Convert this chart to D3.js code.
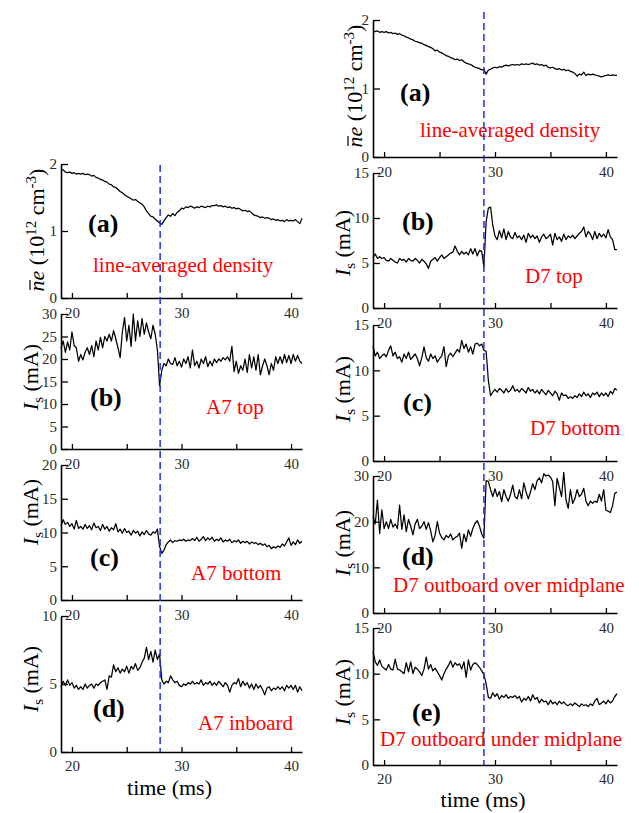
<!DOCTYPE html>
<html><head><meta charset="utf-8">
<script src="https://cdn.jsdelivr.net/npm/d3@7"></script>
<style>body{margin:0;background:#fff} svg{display:block}</style>
</head><body><svg id="c" width="639" height="813"></svg>
<script>
// ---------------- DATA ----------------
const time = [19.0,19.2,19.4,19.6,19.8,20.0,20.2,20.4,20.6,20.8,
21.0,21.2,21.4,21.6,21.8,22.0,22.2,22.4,22.6,22.8,
23.0,23.2,23.4,23.6,23.8,24.0,24.2,24.4,24.6,24.8,
25.0,25.2,25.4,25.6,25.8,26.0,26.2,26.4,26.6,26.8,
27.0,27.2,27.4,27.6,27.8,28.0,28.2,28.4,28.6,28.8,
29.0,29.2,29.4,29.6,29.8,30.0,30.2,30.4,30.6,30.8,
31.0,31.2,31.4,31.6,31.8,32.0,32.2,32.4,32.6,32.8,
33.0,33.2,33.4,33.6,33.8,34.0,34.2,34.4,34.6,34.8,
35.0,35.2,35.4,35.6,35.8,36.0,36.2,36.4,36.6,36.8,
37.0,37.2,37.4,37.6,37.8,38.0,38.2,38.4,38.6,38.8,
39.0,39.2,39.4,39.6,39.8,40.0,40.2,40.4,40.6,40.8,41.0];

// left column (A7)
const leftDensity = [1.93,1.91,1.88,1.87,1.88,1.86,1.87,1.85,1.86,1.85,
1.86,1.84,1.85,1.84,1.82,1.83,1.80,1.79,1.77,1.76,
1.74,1.73,1.70,1.69,1.66,1.65,1.62,1.59,1.57,1.54,
1.52,1.50,1.48,1.46,1.47,1.44,1.42,1.40,1.36,1.30,
1.26,1.22,1.21,1.18,1.15,1.12,1.10,1.15,1.20,1.24,
1.22,1.26,1.23,1.28,1.30,1.34,1.33,1.36,1.35,1.37,
1.36,1.34,1.36,1.35,1.37,1.36,1.35,1.37,1.36,1.38,
1.38,1.39,1.37,1.38,1.36,1.37,1.35,1.36,1.34,1.35,
1.33,1.34,1.32,1.30,1.31,1.29,1.30,1.27,1.24,1.23,
1.22,1.20,1.21,1.19,1.20,1.19,1.17,1.18,1.16,1.17,
1.15,1.16,1.14,1.17,1.15,1.16,1.15,1.17,1.14,1.11,1.19];

const a7Top = [22.4,24,21.5,23.8,22,26,23,22.5,19.5,21,
19.8,21.5,22.5,21,23,20.5,24,22,24.8,22.5,
25,24,25.5,24,26.3,24.5,22.5,20.3,26,29.2,
24,27.5,22.8,30,24,28.5,25,29,25.5,28,
26,24.5,27.5,25.5,22,14,17.5,19,18.5,20,
19,18.8,20.3,18.5,19.5,18.2,20,19,20.5,18,
22,18.5,19.5,18,20,19,20.5,18.3,19.5,18.5,
20,19.2,20,19.5,20.3,19.8,20.5,19.5,22.8,17.2,
19.5,16.8,18.5,17.5,20,17,21,18,20.5,17.5,
21,16.5,18.5,20,18.5,16.5,19,17.5,20.5,19,
20.5,19,21,19.2,20.8,19,21,19.5,20.8,19.5,19];

const a7Bottom = [11.0,11.9,11.2,11.5,10.9,11.3,10.5,11.8,10.6,10.9,
10.5,11.2,10.6,11.0,10.4,11.4,10.7,10.9,10.3,11.2,
10.5,10.9,10.2,10.7,10.4,11.3,10.1,10.5,9.9,10.6,
10.0,10.2,9.6,10.3,9.9,10.2,9.5,10.1,9.7,10.3,
9.8,9.6,10.1,9.9,10.5,7.9,6.9,7.4,8.2,8.6,
8.9,8.5,8.8,8.7,8.9,8.8,9.0,8.7,8.9,8.8,
9.1,8.8,9.3,8.7,9.0,9.4,8.8,9.2,8.9,9.3,
8.7,9.0,8.8,9.2,8.6,8.9,8.7,9.0,8.5,8.8,
8.6,8.9,8.4,8.7,8.5,8.7,8.3,8.6,8.4,8.5,
8.2,8.4,8.1,8.3,7.9,8.1,7.6,7.9,7.7,8.0,
7.8,8.3,8.0,8.6,9.2,8.1,8.6,8.2,8.9,8.4,8.7];

const a7Inboard = [4.8,5.2,4.9,5.3,4.9,5.1,4.7,4.9,4.6,4.8,
4.6,5.0,4.7,4.9,5.0,4.7,5.0,4.9,5.1,5.2,
5.3,4.6,5.6,5.5,6.4,5.9,6.2,5.8,6.1,5.9,
6.3,5.8,6.3,6.1,6.5,6.0,6.2,6.6,6.9,7.7,
6.8,7.4,6.6,7.5,6.8,7.2,5.3,5.0,5.2,5.1,
5.6,5.3,5.1,5.2,4.9,4.8,5.0,4.9,5.1,5.0,
5.2,5.0,5.1,5.0,5.3,4.9,5.1,5.0,5.2,4.9,
5.1,4.9,5.2,5.0,4.8,5.1,4.9,4.4,4.9,5.1,
5.0,5.4,4.8,5.2,4.9,5.1,4.7,5.0,4.6,5.0,
4.7,4.9,4.6,4.2,4.7,4.8,4.5,4.7,4.6,4.8,
4.6,4.8,4.5,4.9,4.7,4.9,4.6,4.9,4.4,4.8,4.5];

// right column (D7)
const rightDensity = [1.84,1.83,1.84,1.82,1.83,1.82,1.83,1.81,1.82,1.80,
1.81,1.79,1.80,1.78,1.77,1.75,1.74,1.72,1.71,1.69,
1.68,1.67,1.66,1.64,1.63,1.61,1.60,1.58,1.55,1.56,
1.53,1.52,1.50,1.48,1.47,1.45,1.44,1.42,1.43,1.41,
1.42,1.39,1.37,1.36,1.35,1.33,1.31,1.30,1.29,1.27,
1.28,1.21,1.27,1.28,1.30,1.31,1.30,1.32,1.31,1.33,
1.34,1.33,1.34,1.35,1.34,1.35,1.34,1.36,1.35,1.36,
1.35,1.36,1.37,1.35,1.36,1.34,1.35,1.33,1.34,1.31,
1.30,1.31,1.29,1.28,1.29,1.27,1.28,1.26,1.27,1.25,
1.24,1.22,1.18,1.21,1.20,1.24,1.19,1.21,1.20,1.21,
1.20,1.19,1.18,1.17,1.18,1.19,1.20,1.19,1.20,1.19,1.19];

const d7Top = [5.6,6.0,5.5,5.7,5.5,5.6,5.3,5.2,5.5,5.3,
5.1,5.0,5.5,5.3,5.4,5.1,5.5,5.3,5.2,5.5,
5.3,5.0,5.4,5.2,4.9,4.4,5.2,5.4,5.6,5.2,
5.6,5.9,5.5,5.7,5.9,6.1,6.2,6.9,6.3,5.9,
6.3,6.0,6.2,5.9,6.6,6.0,6.6,5.8,6.4,6.3,
4.6,9.6,11.1,11.2,9.2,8.0,7.6,8.6,7.8,8.8,
7.6,8.5,7.9,7.7,8.4,7.8,8.0,7.6,8.1,7.3,
8.3,7.8,8.1,7.7,8.0,7.3,7.9,8.2,7.7,7.9,
8.2,7.0,8.3,7.6,7.9,7.4,8.2,7.6,8.0,7.8,
8.1,7.7,8.0,8.3,8.5,9.0,7.9,8.5,8.2,7.6,
8.5,7.7,8.3,7.9,8.2,7.8,8.7,7.9,7.6,6.5,6.5];

const d7Bottom = [12.7,11.6,12.0,11.3,11.6,11.8,11.5,12.2,12.7,11.6,
12.0,11.3,11.5,10.9,11.8,11.3,12.0,11.2,11.5,11.8,
11.3,10.5,11.4,12.6,11.4,11.0,11.8,11.3,11.6,10.9,
11.3,11.6,12.6,10.4,11.6,11.9,11.5,11.9,12.3,12.0,
13.3,12.4,12.9,12.0,12.6,11.8,12.9,13.0,12.7,12.9,
12.2,12.1,8.9,7.2,7.6,7.9,7.6,8.0,7.8,7.5,
8.0,7.6,7.8,8.3,7.7,7.9,7.6,8.0,7.8,7.5,
8.1,7.7,7.9,7.5,7.8,7.4,7.9,7.6,7.3,7.8,
7.5,7.2,7.7,7.4,6.7,7.5,7.2,7.3,6.9,7.1,
6.9,7.2,7.0,7.4,7.1,7.6,7.2,7.4,7.0,7.5,
7.3,7.6,7.1,7.5,7.2,7.5,7.1,7.7,7.4,8.0,7.8];

const d7OutOver = [21.1,19.5,24.7,17.4,22.6,18.5,20.0,18.5,20.5,18.8,
19.5,18.5,23.6,18.3,21.5,17.8,20.5,19.0,17.1,19.5,
20.5,18.5,19.0,20.0,18.3,19.8,18.0,15.6,17.0,20.0,
17.5,16.5,16.0,17.0,16.5,17.3,16.0,16.5,16.8,17.5,
14.2,17.3,15.6,18.2,16.8,18.5,19.6,20.2,19.0,17.3,
16.4,29.0,28.8,27.0,25.5,27.2,25.5,26.6,24.4,27.0,
25.5,24.5,26.0,28.0,25.5,25.0,27.0,25.0,28.5,26.5,
25.0,26.5,28.3,27.0,29.0,29.6,28.5,30.5,30.0,30.2,
29.8,28.8,23.5,29.5,27.5,25.5,30.8,24.8,22.9,27.0,
24.0,25.0,27.0,25.5,26.0,27.3,24.5,23.5,24.5,24.0,
24.5,24.2,26.0,24.5,27.0,22.5,22.3,22.0,23.5,26.2,26.5];

const d7OutUnder = [12.4,11.3,10.9,11.5,10.8,10.6,10.4,11.0,10.5,10.4,
11.6,10.5,10.4,10.2,10.0,11.2,10.2,11.3,10.0,10.7,
10.5,10.2,9.8,10.5,11.8,10.5,11.0,10.3,10.6,10.2,
9.8,9.3,10.0,10.5,10.9,11.4,10.7,11.2,10.9,11.1,
10.5,11.3,9.6,11.5,10.4,11.0,11.2,11.0,10.7,10.3,
9.9,8.9,7.4,7.3,7.9,7.5,7.8,7.2,7.6,7.4,
7.7,7.3,7.5,7.4,7.6,7.3,7.5,6.9,7.3,7.1,
7.5,7.0,7.7,7.2,7.4,6.8,7.2,6.9,7.0,6.6,
7.1,6.7,6.9,6.6,7.0,6.7,6.9,6.6,6.5,6.7,
6.5,6.8,6.6,6.4,6.7,6.5,6.6,6.4,6.7,6.5,
7.0,7.3,6.6,6.8,7.0,6.7,7.1,6.8,7.0,7.5,7.8];

const leftEventTime = 28.05;
const rightEventTime = 29.0;
const timeDomain = [19, 41];
const xTickValues = [20, 25, 30, 35, 40];
const xTickLabels = [20, 30, 40];
const densityTicks = [0, 1, 2];
const ticks0to30by5 = [0, 5, 10, 15, 20, 25, 30];
const ticks0to20 = [0, 5, 10, 15, 20];
const ticks0to10 = [0, 5, 10];
const ticks0to15 = [0, 5, 10, 15];
const ticks0to30by10 = [0, 10, 20, 30];
const leftTags = ["(a)", "(b)", "(c)", "(d)"];
const leftNames = ["line-averaged density", "A7 top", "A7 bottom", "A7 inboard"];
const rightTags = ["(a)", "(b)", "(c)", "(d)", "(e)"];
const rightNames = ["line-averaged density", "D7 top", "D7 bottom", "D7 outboard over midplane", "D7 outboard under midplane"];
const xTitle = "time (ms)";

// ---------------- DRAWING ----------------
const svg = d3.select("#c");
const FONT = "'Liberation Serif','Times New Roman',serif";

const columns = [
  { x0: 61, x1: 302, ylabX: 44, isLabX: 38, event: leftEventTime, dashTop: 165, titleY: 795, tickY: 8,
    panels: [
      { top: 164, bottom: 298, max: 2, ticks: densityTicks, data: leftDensity, kind: "n", labY: 230,
        tag: leftTags[0], tagX: 88, tagY: 232, name: leftNames[0], nameX: 93, nameY: 272 },
      { top: 314, bottom: 449, max: 30, ticks: ticks0to30by5, data: a7Top, kind: "I", labY: 377,
        tag: leftTags[1], tagX: 90, tagY: 406, name: leftNames[1], nameX: 206, nameY: 414 },
      { top: 465, bottom: 600, max: 20, ticks: ticks0to20, data: a7Bottom, kind: "I", labY: 512,
        tag: leftTags[2], tagX: 90, tagY: 566, name: leftNames[2], nameX: 191, nameY: 580 },
      { top: 616, bottom: 752, max: 10, ticks: ticks0to10, data: a7Inboard, kind: "I", labY: 679,
        tag: leftTags[3], tagX: 93, tagY: 717, name: leftNames[3], nameX: 198, nameY: 730 }
    ] },
  { x0: 373, x1: 617, ylabX: 362, isLabX: 350, event: rightEventTime, dashTop: 12, titleY: 807, tickY: 8,
    panels: [
      { top: 20, bottom: 157, max: 2, ticks: densityTicks, data: rightDensity, kind: "n", labY: 86,
        tag: rightTags[0], tagX: 400, tagY: 101, name: rightNames[0], nameX: 420, nameY: 137 },
      { top: 173, bottom: 308, max: 15, ticks: ticks0to15, data: d7Top, kind: "I", labY: 243,
        tag: rightTags[1], tagX: 402, tagY: 230, name: rightNames[1], nameX: 525, nameY: 283 },
      { top: 325, bottom: 461, max: 15, ticks: ticks0to15, data: d7Bottom, kind: "I", labY: 389,
        tag: rightTags[2], tagX: 403, tagY: 411, name: rightNames[2], nameX: 530, nameY: 435 },
      { top: 476, bottom: 613, max: 30, ticks: ticks0to30by10, data: d7OutOver, kind: "I", labY: 543,
        tag: rightTags[3], tagX: 402, tagY: 565, name: rightNames[3], nameX: 393, nameY: 592 },
      { top: 628, bottom: 765, max: 15, ticks: ticks0to15, data: d7OutUnder, kind: "I", labY: 692,
        tag: rightTags[4], tagX: 412, tagY: 721, name: rightNames[4], nameX: 380, nameY: 746 }
    ] }
];

columns.forEach(col => {
  const x = d3.scaleLinear().domain(timeDomain).range([col.x0, col.x1]);
  let lastBottom = 0;
  col.panels.forEach((p, pi) => {
    const y = d3.scaleLinear().domain([0, p.max]).range([p.bottom, p.top]);
    const g = svg.append("g");

    // trace
    const line = d3.line().x((d, i) => x(time[i])).y(d => y(d));
    g.append("path").datum(p.data).attr("d", line)
      .attr("fill", "none").attr("stroke", "#000").attr("stroke-width", 1.25)
      .attr("stroke-linejoin", "round");

    // x axis
    const isLast = pi === col.panels.length - 1;
    const xa = g.append("g").attr("transform", `translate(0,${p.bottom})`)
      .call(d3.axisBottom(x).tickValues(xTickValues).tickSize(-5).tickSizeOuter(0)
        .tickPadding(isLast ? col.tickY : 9)
        .tickFormat(d => xTickLabels.includes(d) ? String(d) : ""));
    // y axis
    const ya = g.append("g").attr("transform", `translate(${col.x0},0)`)
      .call(d3.axisLeft(y).tickValues(p.ticks).tickSize(-7).tickSizeOuter(0).tickPadding(4)
        .tickFormat(d => String(d)));
    [xa, ya].forEach(a => {
      a.select(".domain").attr("stroke", "#000").attr("stroke-width", 1.6);
      a.selectAll(".tick line").attr("stroke", "#000").attr("stroke-width", 1.3);
      a.selectAll(".tick text").attr("font-family", FONT).attr("font-size", 15).attr("fill", "#2a2a2a");
    });

    // y label
    if (p.kind === "n") {
      const lg = svg.append("g").attr("transform", `translate(${col.ylabX},${p.labY}) rotate(-90)`);
      const lab = lg.append("text").attr("font-family", FONT).attr("font-size", 22).attr("fill", "#000")
        .attr("text-anchor", "middle");
      lab.append("tspan").attr("font-style", "italic").text("n");
      lab.append("tspan").attr("font-style", "italic").text("e");
      lab.append("tspan").text(" (10");
      lab.append("tspan").attr("font-size", 15).attr("dy", -8).text("12");
      lab.append("tspan").attr("dy", 8).text(" cm");
      lab.append("tspan").attr("font-size", 15).attr("dy", -8).text("-3");
      lab.append("tspan").attr("dy", 8).text(")");
      const ext = lab.node().getExtentOfChar(0);
      lg.append("line").attr("x1", ext.x + 1.5).attr("x2", ext.x + ext.width + 0.5)
        .attr("y1", -14).attr("y2", -14).attr("stroke", "#000").attr("stroke-width", 1.2);
    } else {
      const lab = svg.append("text").attr("font-family", FONT).attr("font-size", 22).attr("fill", "#000")
        .attr("text-anchor", "middle")
        .attr("transform", `translate(${col.isLabX},${p.labY}) rotate(-90)`);
      lab.append("tspan").attr("font-style", "italic").text("I");
      lab.append("tspan").attr("font-size", 15).attr("dy", 5).text("s");
      lab.append("tspan").attr("dy", -5).text(" (mA)");
    }

    // panel tag and name
    svg.append("text").attr("x", p.tagX).attr("y", p.tagY).attr("font-family", FONT)
      .attr("font-size", 26).attr("font-weight", "bold").attr("fill", "#000").text(p.tag);
    svg.append("text").attr("x", p.nameX).attr("y", p.nameY).attr("font-family", FONT)
      .attr("font-size", 21).attr("fill", "#ff0000").text(p.name);
    lastBottom = p.bottom;
  });

  // x title
  svg.append("text").attr("x", (col.x0 + col.x1) / 2 - 12).attr("y", col.titleY)
    .attr("text-anchor", "middle").attr("font-family", FONT).attr("font-size", 22)
    .attr("fill", "#000").text(xTitle);

  // event dashed line
  svg.append("line").attr("x1", x(col.event)).attr("x2", x(col.event))
    .attr("y1", col.dashTop).attr("y2", lastBottom)
    .attr("stroke", "#1f2ff0").attr("stroke-width", 1.5).attr("stroke-dasharray", "7,4");
});
</script>
</body></html>
